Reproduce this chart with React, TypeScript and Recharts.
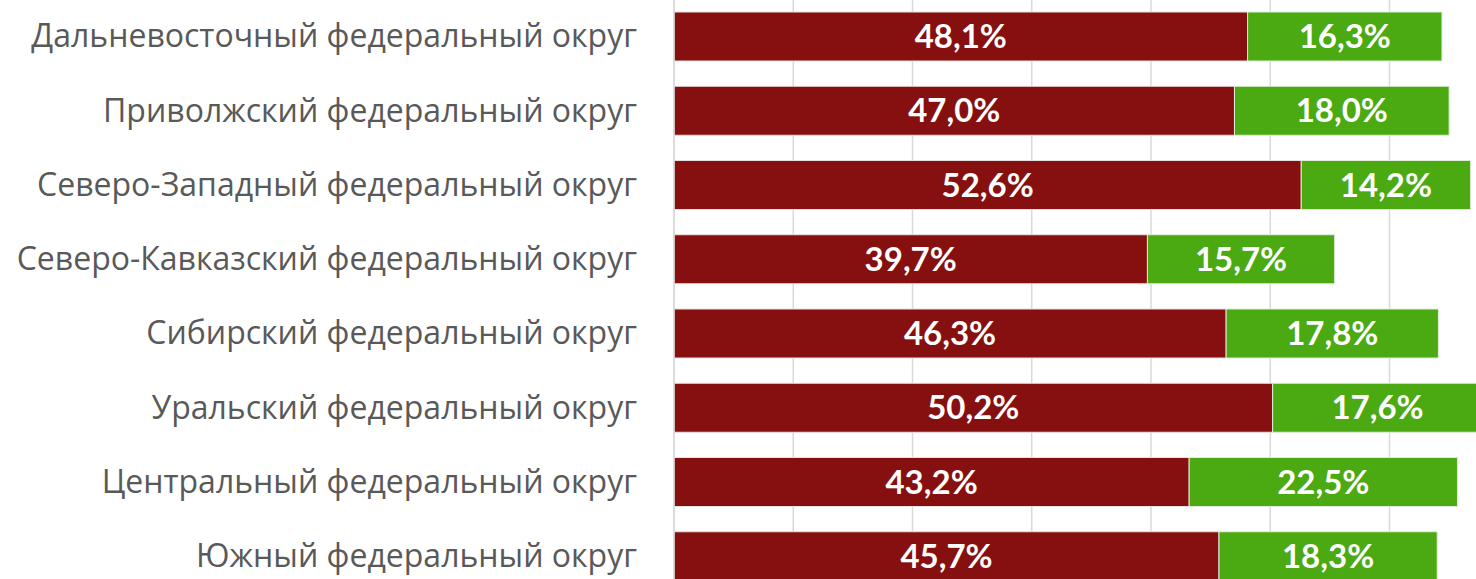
import { Bar, BarChart, CartesianGrid, LabelList, XAxis, YAxis } from "recharts"

const categories = [
  "Дальневосточный федеральный округ",
  "Приволжский федеральный округ",
  "Северо-Западный федеральный округ",
  "Северо-Кавказский федеральный округ",
  "Сибирский федеральный округ",
  "Уральский федеральный округ",
  "Центральный федеральный округ",
  "Южный федеральный округ",
]

const redValues = [48.1, 47.0, 52.6, 39.7, 46.3, 50.2, 43.2, 45.7]
const greenValues = [16.3, 18.0, 14.2, 15.7, 17.8, 17.6, 22.5, 18.3]

const xTicks = [0, 10, 20, 30, 40, 50, 60, 70, 80]

const data = categories.map((name, i) => ({
  name,
  red: redValues[i],
  green: greenValues[i],
}))

const fmt = (v: any) => `${Number(v).toFixed(1).replace(".", ",")}%`

export default function App() {
  return (
    <div style={{ position: "absolute", left: 0, top: 0, width: 1476, height: 579, overflow: "hidden" }}>
      <div style={{ position: "absolute", left: 0, top: -1 }}>
        <BarChart
          width={1628}
          height={594}
          data={data}
          layout="vertical"
          margin={{ top: 0, right: 0, left: 0, bottom: 0 }}
          barSize={49}
        >
          <CartesianGrid horizontal={false} stroke="#d9d9d9" strokeWidth={1.5} />
          <XAxis type="number" domain={[0, 80]} ticks={xTicks} hide />
          <YAxis
            type="category"
            dataKey="name"
            width={674}
            tickLine={false}
            tickSize={0}
            tickMargin={37}
            axisLine={{ stroke: "#d9d9d9", strokeWidth: 1.5 }}
            tick={{ fill: "#595959", fontSize: 32, fontFamily: "Open Sans" }}
          />
          <Bar dataKey="red" stackId="s" fill="#86100F" stroke="#e8e0e0" strokeWidth={1} isAnimationActive={false}>
            <LabelList
              dataKey="red"
              position="center"
              formatter={fmt}
              fill="#ffffff"
              style={{ fontSize: 33, fontWeight: 700, fontFamily: "Lato" }}
            />
          </Bar>
          <Bar dataKey="green" stackId="s" fill="#4BAA12" stroke="#e0ecd8" strokeWidth={1} isAnimationActive={false}>
            <LabelList
              dataKey="green"
              position="center"
              formatter={fmt}
              fill="#ffffff"
              style={{ fontSize: 33, fontWeight: 700, fontFamily: "Lato" }}
            />
          </Bar>
        </BarChart>
      </div>
    </div>
  )
}
